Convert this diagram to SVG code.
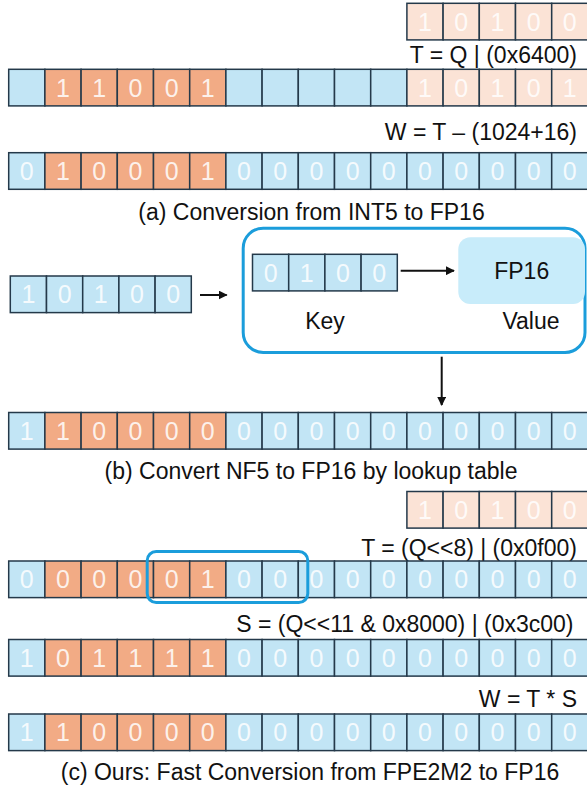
<svg xmlns="http://www.w3.org/2000/svg" xmlns:xlink="http://www.w3.org/1999/xlink" width="587" height="787" viewBox="0 0 587 787">
  <style>
    .cb { fill: #C2E5F5; stroke: #24394A; stroke-width: 1.5; }
    .co { fill: #F2AB85; stroke: #24394A; stroke-width: 1.5; }
    .cp { fill: #FBE3D6; stroke: #24394A; stroke-width: 1.5; }
    .d { font-family: "Liberation Sans", Arial, sans-serif; font-size: 25px; fill: #FFFFFF; fill-opacity: 0.85; text-anchor: middle; }
    .t { font-family: "Liberation Sans", Arial, sans-serif; font-size: 23px; fill: #111111; }
    .e { text-anchor: end; }
    .m { text-anchor: middle; }
    .frame { fill: none; stroke: #1B9DDB; stroke-width: 3; }
    .arr { stroke: #111111; stroke-width: 2; fill: none; marker-end: url(#ah); }
  </style>
  <defs>
    <marker id="ah" viewBox="0 0 10 10" refX="9" refY="5" markerWidth="4.5" markerHeight="4.5" orient="auto" markerUnits="strokeWidth">
      <path d="M0,0 L10,5 L0,10 z" fill="#111111"/>
    </marker>
  </defs>

  <!-- (a) INT5 to FP16 -->
  <g id="a-q" transform="translate(406.9,3.3)">
    <rect class="cp" x="0" y="0" width="36.2" height="36.6"/><rect class="cp" x="36.2" y="0" width="36.2" height="36.6"/><rect class="cp" x="72.4" y="0" width="36.2" height="36.6"/><rect class="cp" x="108.6" y="0" width="36.2" height="36.6"/><rect class="cp" x="144.8" y="0" width="36.2" height="36.6"/>
    <text class="d" x="18.1" y="27.3">1</text><text class="d" x="54.3" y="27.3">0</text><text class="d" x="90.5" y="27.3">1</text><text class="d" x="126.7" y="27.3">0</text><text class="d" x="162.9" y="27.3">0</text>
  </g>
  <g id="a-t-label"><text class="t e" x="577" y="62.7">T = Q | (0x6400)</text></g>
  <g id="a-t" transform="translate(8.7,69.3)">
    <rect class="cb" x="0" y="0" width="36.2" height="36.6"/>
    <rect class="co" x="36.2" y="0" width="36.2" height="36.6"/><rect class="co" x="72.4" y="0" width="36.2" height="36.6"/><rect class="co" x="108.6" y="0" width="36.2" height="36.6"/><rect class="co" x="144.8" y="0" width="36.2" height="36.6"/><rect class="co" x="181" y="0" width="36.2" height="36.6"/>
    <rect class="cb" x="217.2" y="0" width="36.2" height="36.6"/><rect class="cb" x="253.4" y="0" width="36.2" height="36.6"/><rect class="cb" x="289.6" y="0" width="36.2" height="36.6"/><rect class="cb" x="325.8" y="0" width="36.2" height="36.6"/><rect class="cb" x="362" y="0" width="36.2" height="36.6"/>
    <rect class="cp" x="398.2" y="0" width="36.2" height="36.6"/><rect class="cp" x="434.4" y="0" width="36.2" height="36.6"/><rect class="cp" x="470.6" y="0" width="36.2" height="36.6"/><rect class="cp" x="506.8" y="0" width="36.2" height="36.6"/><rect class="cp" x="543" y="0" width="36.2" height="36.6"/>
    <text class="d" x="54.3" y="27.3">1</text><text class="d" x="90.5" y="27.3">1</text><text class="d" x="126.7" y="27.3">0</text><text class="d" x="162.9" y="27.3">0</text><text class="d" x="199.1" y="27.3">1</text>
    <text class="d" x="416.3" y="27.3">1</text><text class="d" x="452.5" y="27.3">0</text><text class="d" x="488.7" y="27.3">1</text><text class="d" x="524.9" y="27.3">0</text><text class="d" x="561.1" y="27.3">1</text>
  </g>
  <g id="a-w-label"><text class="t e" x="577" y="140">W = T – (1024+16)</text></g>
  <g id="a-w" transform="translate(8.7,152.7)">
    <rect class="cb" x="0" y="0" width="36.2" height="36.6"/>
    <rect class="co" x="36.2" y="0" width="36.2" height="36.6"/><rect class="co" x="72.4" y="0" width="36.2" height="36.6"/><rect class="co" x="108.6" y="0" width="36.2" height="36.6"/><rect class="co" x="144.8" y="0" width="36.2" height="36.6"/><rect class="co" x="181" y="0" width="36.2" height="36.6"/>
    <rect class="cb" x="217.2" y="0" width="36.2" height="36.6"/><rect class="cb" x="253.4" y="0" width="36.2" height="36.6"/><rect class="cb" x="289.6" y="0" width="36.2" height="36.6"/><rect class="cb" x="325.8" y="0" width="36.2" height="36.6"/><rect class="cb" x="362" y="0" width="36.2" height="36.6"/>
    <rect class="cb" x="398.2" y="0" width="36.2" height="36.6"/><rect class="cb" x="434.4" y="0" width="36.2" height="36.6"/><rect class="cb" x="470.6" y="0" width="36.2" height="36.6"/><rect class="cb" x="506.8" y="0" width="36.2" height="36.6"/><rect class="cb" x="543" y="0" width="36.2" height="36.6"/>
    <text class="d" x="18.1" y="27.3">0</text>
    <text class="d" x="54.3" y="27.3">1</text><text class="d" x="90.5" y="27.3">0</text><text class="d" x="126.7" y="27.3">0</text><text class="d" x="162.9" y="27.3">0</text><text class="d" x="199.1" y="27.3">1</text>
    <text class="d" x="235.3" y="27.3">0</text><text class="d" x="271.5" y="27.3">0</text><text class="d" x="307.7" y="27.3">0</text><text class="d" x="343.9" y="27.3">0</text><text class="d" x="380.1" y="27.3">0</text>
    <text class="d" x="416.3" y="27.3">0</text><text class="d" x="452.5" y="27.3">0</text><text class="d" x="488.7" y="27.3">0</text><text class="d" x="524.9" y="27.3">0</text><text class="d" x="561.1" y="27.3">0</text>
  </g>
  <g id="caption-a"><text class="t m" x="311.5" y="220">(a) Conversion from INT5 to FP16</text></g>

  <!-- (b) NF5 to FP16 by lookup table -->
  <g id="b-in" transform="translate(10.3,276)">
    <rect class="cb" x="0" y="0" width="36.2" height="36.6"/><rect class="cb" x="36.2" y="0" width="36.2" height="36.6"/><rect class="cb" x="72.4" y="0" width="36.2" height="36.6"/><rect class="cb" x="108.6" y="0" width="36.2" height="36.6"/><rect class="cb" x="144.8" y="0" width="36.2" height="36.6"/>
    <text class="d" x="18.1" y="27.3">1</text><text class="d" x="54.3" y="27.3">0</text><text class="d" x="90.5" y="27.3">1</text><text class="d" x="126.7" y="27.3">0</text><text class="d" x="162.9" y="27.3">0</text>
  </g>
  <g id="lut">
    <rect class="frame" x="243.2" y="228.2" width="341.8" height="124.3" rx="20"/>
  </g>
  <g id="b-key" transform="translate(252.5,254.3)">
    <rect class="cb" x="0" y="0" width="36.2" height="36.6"/><rect class="cb" x="36.2" y="0" width="36.2" height="36.6"/><rect class="cb" x="72.4" y="0" width="36.2" height="36.6"/><rect class="cb" x="108.6" y="0" width="36.2" height="36.6"/>
    <text class="d" x="18.1" y="27.3">0</text><text class="d" x="54.3" y="27.3">1</text><text class="d" x="90.5" y="27.3">0</text><text class="d" x="126.7" y="27.3">0</text>
  </g>
  <g id="b-value">
    <rect x="458.3" y="237.3" width="126.7" height="66.7" rx="12" fill="#C8ECFA"/>
    <text class="t m" x="521.7" y="279.3">FP16</text>
  </g>
  <g id="b-labels">
    <text class="t m" x="325" y="329.3">Key</text>
    <text class="t m" x="531" y="329.3">Value</text>
  </g>
  <g id="connectors">
    <line class="arr" x1="200" y1="295" x2="226.7" y2="295"/>
    <line class="arr" x1="400.7" y1="270.7" x2="454" y2="270.7"/>
    <line class="arr" x1="441.7" y1="356.7" x2="441.7" y2="405"/>
  </g>
  <g id="b-out" transform="translate(8.7,412.5)">
    <rect class="cb" x="0" y="0" width="36.2" height="36.6"/>
    <rect class="co" x="36.2" y="0" width="36.2" height="36.6"/><rect class="co" x="72.4" y="0" width="36.2" height="36.6"/><rect class="co" x="108.6" y="0" width="36.2" height="36.6"/><rect class="co" x="144.8" y="0" width="36.2" height="36.6"/><rect class="co" x="181" y="0" width="36.2" height="36.6"/>
    <rect class="cb" x="217.2" y="0" width="36.2" height="36.6"/><rect class="cb" x="253.4" y="0" width="36.2" height="36.6"/><rect class="cb" x="289.6" y="0" width="36.2" height="36.6"/><rect class="cb" x="325.8" y="0" width="36.2" height="36.6"/><rect class="cb" x="362" y="0" width="36.2" height="36.6"/>
    <rect class="cb" x="398.2" y="0" width="36.2" height="36.6"/><rect class="cb" x="434.4" y="0" width="36.2" height="36.6"/><rect class="cb" x="470.6" y="0" width="36.2" height="36.6"/><rect class="cb" x="506.8" y="0" width="36.2" height="36.6"/><rect class="cb" x="543" y="0" width="36.2" height="36.6"/>
    <text class="d" x="18.1" y="27.3">1</text>
    <text class="d" x="54.3" y="27.3">1</text><text class="d" x="90.5" y="27.3">0</text><text class="d" x="126.7" y="27.3">0</text><text class="d" x="162.9" y="27.3">0</text><text class="d" x="199.1" y="27.3">0</text>
    <text class="d" x="235.3" y="27.3">0</text><text class="d" x="271.5" y="27.3">0</text><text class="d" x="307.7" y="27.3">0</text><text class="d" x="343.9" y="27.3">0</text><text class="d" x="380.1" y="27.3">0</text>
    <text class="d" x="416.3" y="27.3">0</text><text class="d" x="452.5" y="27.3">0</text><text class="d" x="488.7" y="27.3">0</text><text class="d" x="524.9" y="27.3">0</text><text class="d" x="561.1" y="27.3">0</text>
  </g>
  <g id="caption-b"><text class="t m" x="311" y="479.3">(b) Convert NF5 to FP16 by lookup table</text></g>

  <!-- (c) FPE2M2 to FP16 -->
  <g id="c-q" transform="translate(406.9,491.5)">
    <rect class="cp" x="0" y="0" width="36.2" height="36.6"/><rect class="cp" x="36.2" y="0" width="36.2" height="36.6"/><rect class="cp" x="72.4" y="0" width="36.2" height="36.6"/><rect class="cp" x="108.6" y="0" width="36.2" height="36.6"/><rect class="cp" x="144.8" y="0" width="36.2" height="36.6"/>
    <text class="d" x="18.1" y="27.3">1</text><text class="d" x="54.3" y="27.3">0</text><text class="d" x="90.5" y="27.3">1</text><text class="d" x="126.7" y="27.3">0</text><text class="d" x="162.9" y="27.3">0</text>
  </g>
  <g id="c-t-label"><text class="t e" x="577" y="556">T = (Q&lt;&lt;8) | (0x0f00)</text></g>
  <g id="c-t" transform="translate(8.7,561)">
    <rect class="cb" x="0" y="0" width="36.2" height="36.6"/>
    <rect class="co" x="36.2" y="0" width="36.2" height="36.6"/><rect class="co" x="72.4" y="0" width="36.2" height="36.6"/><rect class="co" x="108.6" y="0" width="36.2" height="36.6"/><rect class="co" x="144.8" y="0" width="36.2" height="36.6"/><rect class="co" x="181" y="0" width="36.2" height="36.6"/>
    <rect class="cb" x="217.2" y="0" width="36.2" height="36.6"/><rect class="cb" x="253.4" y="0" width="36.2" height="36.6"/><rect class="cb" x="289.6" y="0" width="36.2" height="36.6"/><rect class="cb" x="325.8" y="0" width="36.2" height="36.6"/><rect class="cb" x="362" y="0" width="36.2" height="36.6"/>
    <rect class="cb" x="398.2" y="0" width="36.2" height="36.6"/><rect class="cb" x="434.4" y="0" width="36.2" height="36.6"/><rect class="cb" x="470.6" y="0" width="36.2" height="36.6"/><rect class="cb" x="506.8" y="0" width="36.2" height="36.6"/><rect class="cb" x="543" y="0" width="36.2" height="36.6"/>
    <text class="d" x="18.1" y="27.3">0</text>
    <text class="d" x="54.3" y="27.3">0</text><text class="d" x="90.5" y="27.3">0</text><text class="d" x="126.7" y="27.3">0</text><text class="d" x="162.9" y="27.3">0</text><text class="d" x="199.1" y="27.3">1</text>
    <text class="d" x="235.3" y="27.3">0</text><text class="d" x="271.5" y="27.3">0</text><text class="d" x="307.7" y="27.3">0</text><text class="d" x="343.9" y="27.3">0</text><text class="d" x="380.1" y="27.3">0</text>
    <text class="d" x="416.3" y="27.3">0</text><text class="d" x="452.5" y="27.3">0</text><text class="d" x="488.7" y="27.3">0</text><text class="d" x="524.9" y="27.3">0</text><text class="d" x="561.1" y="27.3">0</text>
  </g>
  <g id="c-highlight">
    <rect class="frame" x="147.2" y="551.5" width="160.6" height="51" rx="9"/>
  </g>
  <g id="c-s-label"><text class="t e" x="573.5" y="631.7">S = (Q&lt;&lt;11 &amp; 0x8000) | (0x3c00)</text></g>
  <g id="c-s" transform="translate(8.7,639.5)">
    <rect class="cb" x="0" y="0" width="36.2" height="36.6"/>
    <rect class="co" x="36.2" y="0" width="36.2" height="36.6"/><rect class="co" x="72.4" y="0" width="36.2" height="36.6"/><rect class="co" x="108.6" y="0" width="36.2" height="36.6"/><rect class="co" x="144.8" y="0" width="36.2" height="36.6"/><rect class="co" x="181" y="0" width="36.2" height="36.6"/>
    <rect class="cb" x="217.2" y="0" width="36.2" height="36.6"/><rect class="cb" x="253.4" y="0" width="36.2" height="36.6"/><rect class="cb" x="289.6" y="0" width="36.2" height="36.6"/><rect class="cb" x="325.8" y="0" width="36.2" height="36.6"/><rect class="cb" x="362" y="0" width="36.2" height="36.6"/>
    <rect class="cb" x="398.2" y="0" width="36.2" height="36.6"/><rect class="cb" x="434.4" y="0" width="36.2" height="36.6"/><rect class="cb" x="470.6" y="0" width="36.2" height="36.6"/><rect class="cb" x="506.8" y="0" width="36.2" height="36.6"/><rect class="cb" x="543" y="0" width="36.2" height="36.6"/>
    <text class="d" x="18.1" y="27.3">1</text>
    <text class="d" x="54.3" y="27.3">0</text><text class="d" x="90.5" y="27.3">1</text><text class="d" x="126.7" y="27.3">1</text><text class="d" x="162.9" y="27.3">1</text><text class="d" x="199.1" y="27.3">1</text>
    <text class="d" x="235.3" y="27.3">0</text><text class="d" x="271.5" y="27.3">0</text><text class="d" x="307.7" y="27.3">0</text><text class="d" x="343.9" y="27.3">0</text><text class="d" x="380.1" y="27.3">0</text>
    <text class="d" x="416.3" y="27.3">0</text><text class="d" x="452.5" y="27.3">0</text><text class="d" x="488.7" y="27.3">0</text><text class="d" x="524.9" y="27.3">0</text><text class="d" x="561.1" y="27.3">0</text>
  </g>
  <g id="c-w-label"><text class="t e" x="577" y="707.3">W = T * S</text></g>
  <g id="c-w" transform="translate(8.7,714)">
    <rect class="cb" x="0" y="0" width="36.2" height="36.6"/>
    <rect class="co" x="36.2" y="0" width="36.2" height="36.6"/><rect class="co" x="72.4" y="0" width="36.2" height="36.6"/><rect class="co" x="108.6" y="0" width="36.2" height="36.6"/><rect class="co" x="144.8" y="0" width="36.2" height="36.6"/><rect class="co" x="181" y="0" width="36.2" height="36.6"/>
    <rect class="cb" x="217.2" y="0" width="36.2" height="36.6"/><rect class="cb" x="253.4" y="0" width="36.2" height="36.6"/><rect class="cb" x="289.6" y="0" width="36.2" height="36.6"/><rect class="cb" x="325.8" y="0" width="36.2" height="36.6"/><rect class="cb" x="362" y="0" width="36.2" height="36.6"/>
    <rect class="cb" x="398.2" y="0" width="36.2" height="36.6"/><rect class="cb" x="434.4" y="0" width="36.2" height="36.6"/><rect class="cb" x="470.6" y="0" width="36.2" height="36.6"/><rect class="cb" x="506.8" y="0" width="36.2" height="36.6"/><rect class="cb" x="543" y="0" width="36.2" height="36.6"/>
    <text class="d" x="18.1" y="27.3">1</text>
    <text class="d" x="54.3" y="27.3">1</text><text class="d" x="90.5" y="27.3">0</text><text class="d" x="126.7" y="27.3">0</text><text class="d" x="162.9" y="27.3">0</text><text class="d" x="199.1" y="27.3">0</text>
    <text class="d" x="235.3" y="27.3">0</text><text class="d" x="271.5" y="27.3">0</text><text class="d" x="307.7" y="27.3">0</text><text class="d" x="343.9" y="27.3">0</text><text class="d" x="380.1" y="27.3">0</text>
    <text class="d" x="416.3" y="27.3">0</text><text class="d" x="452.5" y="27.3">0</text><text class="d" x="488.7" y="27.3">0</text><text class="d" x="524.9" y="27.3">0</text><text class="d" x="561.1" y="27.3">0</text>
  </g>
  <g id="caption-c"><text class="t m" x="310" y="780">(c) Ours: Fast Conversion from FPE2M2 to FP16</text></g>
</svg>
